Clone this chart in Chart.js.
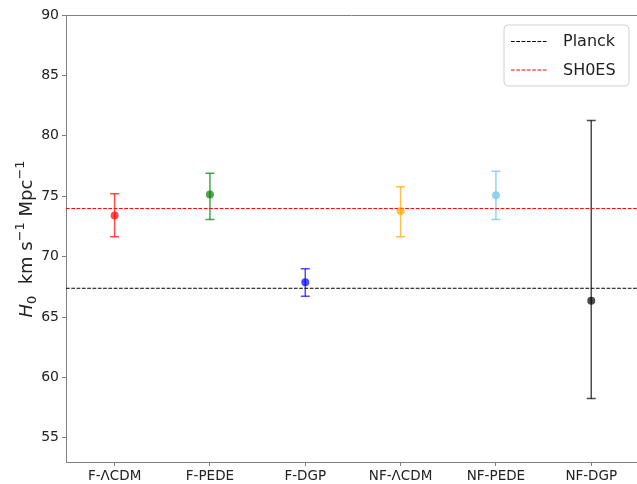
<!DOCTYPE html>
<html>
<head>
<meta charset="utf-8">
<script src="https://cdn.jsdelivr.net/npm/chart.js@4.4.1/dist/chart.umd.min.js"></script>
<style>
html,body{margin:0;padding:0;background:#fff;}
#wrap{width:637px;height:484px;position:relative;}
</style>
</head>
<body>
<div id="wrap"><canvas id="c" width="637" height="484"></canvas></div>
<script>
// ---- data ----
const categories = ['F-ΛCDM', 'F-PEDE', 'F-DGP', 'NF-ΛCDM', 'NF-PEDE', 'NF-DGP'];
const h0Values   = [73.41, 75.15, 67.88, 73.77, 75.07, 66.34];
const h0Upper    = [75.21, 76.90, 68.99, 75.79, 77.06, 81.26];
const h0Lower    = [71.65, 73.08, 66.72, 71.65, 73.08, 58.26];
const pointColors = ['rgba(255,0,0,0.7)', 'rgba(0,128,0,0.7)', 'rgba(0,0,255,0.7)',
                     'rgba(255,165,0,0.7)', 'rgba(135,206,235,0.9)', 'rgba(0,0,0,0.7)'];
const planckH0 = 67.38;
const shoesH0  = 73.98;
const yTicks = [55, 60, 65, 70, 75, 80, 85, 90];
const yMin = 53, yMax = 90;
const xMin = -0.51, xMax = 5.48;

const FONT = "'DejaVu Sans', sans-serif";
const SPINE = '#808080';
const TEXT = '#222';

const errorBars = {
  id: 'errorBars',
  beforeDatasetsDraw(chart) {
    const ctx = chart.ctx, xs = chart.scales.x, ys = chart.scales.y;
    ctx.save();
    ctx.lineWidth = 1.5;
    for (let i = 0; i < categories.length; i++) {
      const px = xs.getPixelForValue(i);
      const pt = ys.getPixelForValue(h0Upper[i]);
      const pb = ys.getPixelForValue(h0Lower[i]);
      ctx.strokeStyle = pointColors[i];
      ctx.beginPath();
      ctx.moveTo(px, pt); ctx.lineTo(px, pb);
      ctx.stroke();
      ctx.beginPath();
      ctx.moveTo(px - 4.5, pt); ctx.lineTo(px + 4.5, pt);
      ctx.moveTo(px - 4.5, pb); ctx.lineTo(px + 4.5, pb);
      ctx.stroke();
    }
    ctx.restore();
  }
};

const decor = {
  id: 'decor',
  afterDraw(chart) {
    const ctx = chart.ctx, a = chart.chartArea;
    ctx.save();
    // top spine
    ctx.strokeStyle = SPINE; ctx.lineWidth = 1;
    ctx.beginPath(); ctx.moveTo(a.left, a.top + 0.5); ctx.lineTo(a.right, a.top + 0.5); ctx.stroke();

    // y axis title
    ctx.fillStyle = TEXT;
    ctx.translate(32, 239);
    ctx.rotate(-Math.PI / 2);
    const big = 18, small = 13;
    const parts = [
      {t: 'H', f: 'italic ' + big + 'px ' + FONT, dy: 0},
      {t: '0', f: small + 'px ' + FONT, dy: 4},
      {t: '  km s', f: big + 'px ' + FONT, dy: 0},
      {t: '−1', f: small + 'px ' + FONT, dy: -8},
      {t: ' Mpc', f: big + 'px ' + FONT, dy: 0},
      {t: '−1', f: small + 'px ' + FONT, dy: -8}
    ];
    let total = 0;
    parts.forEach(p => { ctx.font = p.f; p.w = ctx.measureText(p.t).width; total += p.w; });
    let x = -total / 2;
    ctx.textBaseline = 'alphabetic';
    parts.forEach(p => { ctx.font = p.f; ctx.fillText(p.t, x, p.dy); x += p.w; });
    ctx.restore();

    // legend
    ctx.save();
    const bx = 504, by = 25, bw = 125, bh = 61, r = 4;
    ctx.beginPath();
    ctx.moveTo(bx + r, by);
    ctx.arcTo(bx + bw, by, bx + bw, by + bh, r);
    ctx.arcTo(bx + bw, by + bh, bx, by + bh, r);
    ctx.arcTo(bx, by + bh, bx, by, r);
    ctx.arcTo(bx, by, bx + bw, by, r);
    ctx.closePath();
    ctx.fillStyle = 'rgba(255,255,255,0.8)';
    ctx.fill();
    ctx.strokeStyle = '#d0d0d0'; ctx.lineWidth = 1;
    ctx.stroke();
    const items = chart.data.datasets.filter(d => d.showInLegend);
    items.forEach((d, k) => {
      const yy = 41 + k * 28.5;
      ctx.strokeStyle = d.borderColor; ctx.lineWidth = 1;
      ctx.setLineDash([3.7, 1.6]);
      ctx.beginPath(); ctx.moveTo(511, yy + 0.5); ctx.lineTo(547, yy + 0.5); ctx.stroke();
      ctx.setLineDash([]);
      ctx.fillStyle = TEXT;
      ctx.font = '16px ' + FONT;
      ctx.textBaseline = 'middle';
      ctx.fillText(d.label, 563, yy + 1);
    });
    ctx.restore();
  }
};

new Chart(document.getElementById('c'), {
  type: 'scatter',
  data: {
    datasets: [
      {
        label: 'H0',
        data: h0Values.map((v, i) => ({x: i, y: v})),
        pointBackgroundColor: pointColors,
        pointBorderColor: pointColors,
        pointRadius: 4,
        pointBorderWidth: 0,
        showLine: false
      },
      {
        label: 'Planck', showInLegend: true,
        type: 'line',
        data: [{x: xMin, y: planckH0}, {x: xMax, y: planckH0}],
        borderColor: '#000', borderWidth: 1, borderDash: [3.7, 1.6],
        pointRadius: 0, fill: false
      },
      {
        label: 'SH0ES', showInLegend: true,
        type: 'line',
        data: [{x: xMin, y: shoesH0}, {x: xMax, y: shoesH0}],
        borderColor: '#ff0000', borderWidth: 1, borderDash: [3.7, 1.6],
        pointRadius: 0, fill: false
      }
    ]
  },
  options: {
    responsive: false,
    animation: false,
    layout: {autoPadding: false, padding: {top: 15, right: 0, left: 0, bottom: 0}},
    plugins: {legend: {display: false}, tooltip: {enabled: false}},
    scales: {
      x: {
        type: 'linear', min: xMin, max: xMax,
        afterBuildTicks: s => { s.ticks = categories.map((c, i) => ({value: i})); },
        afterFit: s => { s.height = 22; s.paddingLeft = 0; s.paddingRight = 0; },
        ticks: {
          callback: v => categories[v],
          font: {family: FONT, size: 13.5}, color: TEXT, padding: 2, maxRotation: 0, autoSkip: false
        },
        grid: {drawOnChartArea: false, drawTicks: true, tickLength: 4, color: SPINE},
        border: {display: true, color: SPINE, width: 1}
      },
      y: {
        min: yMin, max: yMax,
        afterBuildTicks: s => { s.ticks = yTicks.map(v => ({value: v})); },
        afterFit: s => { s.width = 66; s.paddingTop = 0; s.paddingBottom = 0; },
        ticks: {font: {family: FONT, size: 14}, color: TEXT, padding: 3},
        grid: {drawOnChartArea: false, drawTicks: true, tickLength: 4, color: SPINE},
        border: {display: true, color: SPINE, width: 1}
      }
    }
  },
  plugins: [errorBars, decor]
});
</script>
</body>
</html>
